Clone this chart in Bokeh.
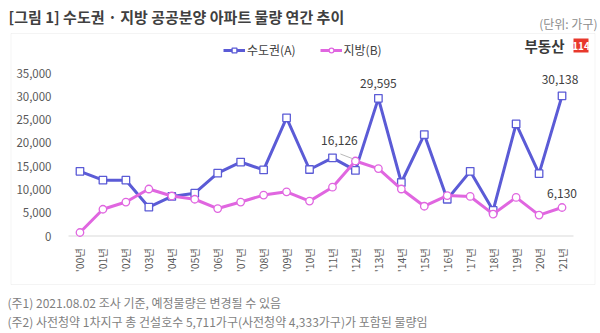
import math
from bokeh.plotting import figure
from bokeh.models import (ColumnDataSource, FixedTicker, Range1d, Label, Legend, LegendItem,
                          BoxAnnotation, LinearAxis)
from bokeh.core.properties import value
from bokeh.embed import file_html
from bokeh.resources import INLINE

years = ["'00년", "'01년", "'02년", "'03년", "'04년", "'05년", "'06년", "'07년", "'08년", "'09년", "'10년",
         "'11년", "'12년", "'13년", "'14년", "'15년", "'16년", "'17년", "'18년", "'19년", "'20년", "'21년"]
capital = [13900, 12000, 12000, 6200, 8500, 9200, 13500, 15900, 14200, 25400, 14300,
           16800, 14100, 29595, 11500, 21800, 7900, 13900, 5500, 24100, 13400, 30138]
regional = [750, 5750, 7300, 10100, 8600, 7900, 5900, 7300, 8800, 9500, 7500,
            10500, 16126, 14500, 10100, 6400, 8700, 8500, 4700, 8300, 4500, 6130]
y_ticks = [0, 5000, 10000, 15000, 20000, 25000, 30000, 35000]

FONT = "Noto Sans CJK KR"
BLUE = "#5b5bd6"
PINK = "#e066e0"
W, H = 600, 333

# canvas geometry: plot band 68..573 px wide, value 0 at 235.5 px, 35,000 at 72.7 px
PX_X = (573 - 68) / len(years)
PX_Y = (235.5 - 72.7) / 35000
x_lo = -0.5 - 68 / PX_X
x_hi = x_lo + W / PX_X
y_hi = 235.5 / PX_Y
y_lo = y_hi - H / PX_Y

idx = list(range(len(years)))
src = ColumnDataSource(dict(x=idx, a=capital, b=regional))

p = figure(width=W, height=H, output_backend="svg", toolbar_location=None,
           x_range=Range1d(x_lo, x_hi), y_range=Range1d(y_lo, y_hi),
           x_axis_location=None, y_axis_location=None,
           min_border=0, min_border_left=0, min_border_right=0, min_border_top=0,
           min_border_bottom=0)
p.outline_line_color = None
p.background_fill_color = "white"
p.border_fill_color = "white"
p.grid.visible = False

def sx(cx):
    return cx

def sy(cy):
    return H - cy

# chart border
p.add_layout(BoxAnnotation(left=sx(10.5), right=sx(594.5), top=sy(33), bottom=sy(284),
                           left_units="screen", right_units="screen", top_units="screen",
                           bottom_units="screen", fill_alpha=0, line_color="#d9d9d9",
                           line_width=1))

xaxis = LinearAxis(fixed_location=0, ticker=FixedTicker(ticks=idx),
                   major_label_overrides={i: t for i, t in zip(idx, years)},
                   major_label_orientation=math.pi / 2,
                   axis_line_color=None, major_tick_line_color=None, minor_tick_line_color=None,
                   major_label_standoff=6, major_label_text_font=FONT,
                   major_label_text_font_size="10.5px", major_label_text_color="#595959")
p.add_layout(xaxis, "below")

yaxis = LinearAxis(fixed_location=-0.5, ticker=FixedTicker(ticks=y_ticks),
                   major_label_overrides={v: f"{v:,}" for v in y_ticks},
                   axis_line_color=None, major_tick_line_color=None, minor_tick_line_color=None,
                   major_label_standoff=11, major_label_text_font=FONT,
                   major_label_text_font_size="11.5px", major_label_text_color="#595959")
p.add_layout(yaxis, "left")

# baseline
p.segment(x0=[-0.5], y0=[0], x1=[len(years) - 0.5], y1=[0], line_color="#d9d9d9", line_width=1)

la = p.line("x", "a", source=src, line_color=BLUE, line_width=3)
sa = p.scatter("x", "a", source=src, marker="square", size=7.5, fill_color="white",
               line_color=BLUE, line_width=1.3)
lb = p.line("x", "b", source=src, line_color=PINK, line_width=3)
sb = p.scatter("x", "b", source=src, marker="circle", size=7.5, fill_color="white",
               line_color=PINK, line_width=1.3)

# value labels
lsrc = ColumnDataSource(dict(
    x=[13, 21, 12, 21],
    y=[capital[13], capital[21], regional[12], regional[21]],
    t=[f"{capital[13]:,}", f"{capital[21]:,}", f"{regional[12]:,}", f"{regional[21]:,}"],
    xo=[0, -2, -16, 0],
    yo=[-15, -16, -20, -14]))
p.text("x", "y", text="t", source=lsrc, x_offset="xo", y_offset="yo", text_align="center",
       text_baseline="middle", text_font=value(FONT), text_font_size="12px", text_color="#404040")
p.segment(x0=[12 - 15 / PX_X], y0=[regional[12] + 7 * 215], x1=[12 - 2 / PX_X],
          y1=[regional[12] + 2 * 215], line_color="#a6a6a6", line_width=0.8)

legend = Legend(items=[LegendItem(label="수도권(A)", renderers=[la, sa]),
                       LegendItem(label="지방(B)", renderers=[lb, sb])],
                orientation="horizontal", location=(223, sy(58)),
                glyph_width=22, glyph_height=12, label_text_font=FONT,
                label_text_font_size="12px", label_text_color="#404040",
                spacing=24, padding=0, margin=0, label_standoff=2,
                border_line_color=None, background_fill_alpha=0)
p.add_layout(legend, "center")

def cl(text, cx, cy, size, color, align="left", style="normal", **kw):
    p.add_layout(Label(x=sx(cx), y=sy(cy), x_units="screen", y_units="screen", text=text,
                       text_font=FONT, text_font_size=size, text_color=color,
                       text_align=align, text_baseline="middle", text_font_style=style, **kw))

cl("[그림 1] 수도권 · 지방 공공분양 아파트 물량 연간 추이", 8, 16, "15px", "#404040", style="bold")
cl("(단위: 가구)", 597, 23, "12px", "#8c8c8c", align="right")
cl("부동산", 524, 45, "14.5px", "#3a3a3a", style="bold")
p.add_layout(BoxAnnotation(left=sx(573), right=sx(588), top=sy(38), bottom=sy(52),
                           left_units="screen", right_units="screen", top_units="screen",
                           bottom_units="screen", fill_color="#e8382c", fill_alpha=1,
                           line_color=None))
cl("114", 580.5, 45, "10px", "white", align="center", style="bold")
cl("(주1) 2021.08.02 조사 기준, 예정물량은 변경될 수 있음", 7, 302, "12px", "#7f7f7f")
cl("(주2) 사전청약 1차지구 총 건설호수 5,711가구(사전청약 4,333가구)가 포함된 물량임", 7, 321, "12px", "#7f7f7f")

open("out.html", "w").write(file_html(p, INLINE))
